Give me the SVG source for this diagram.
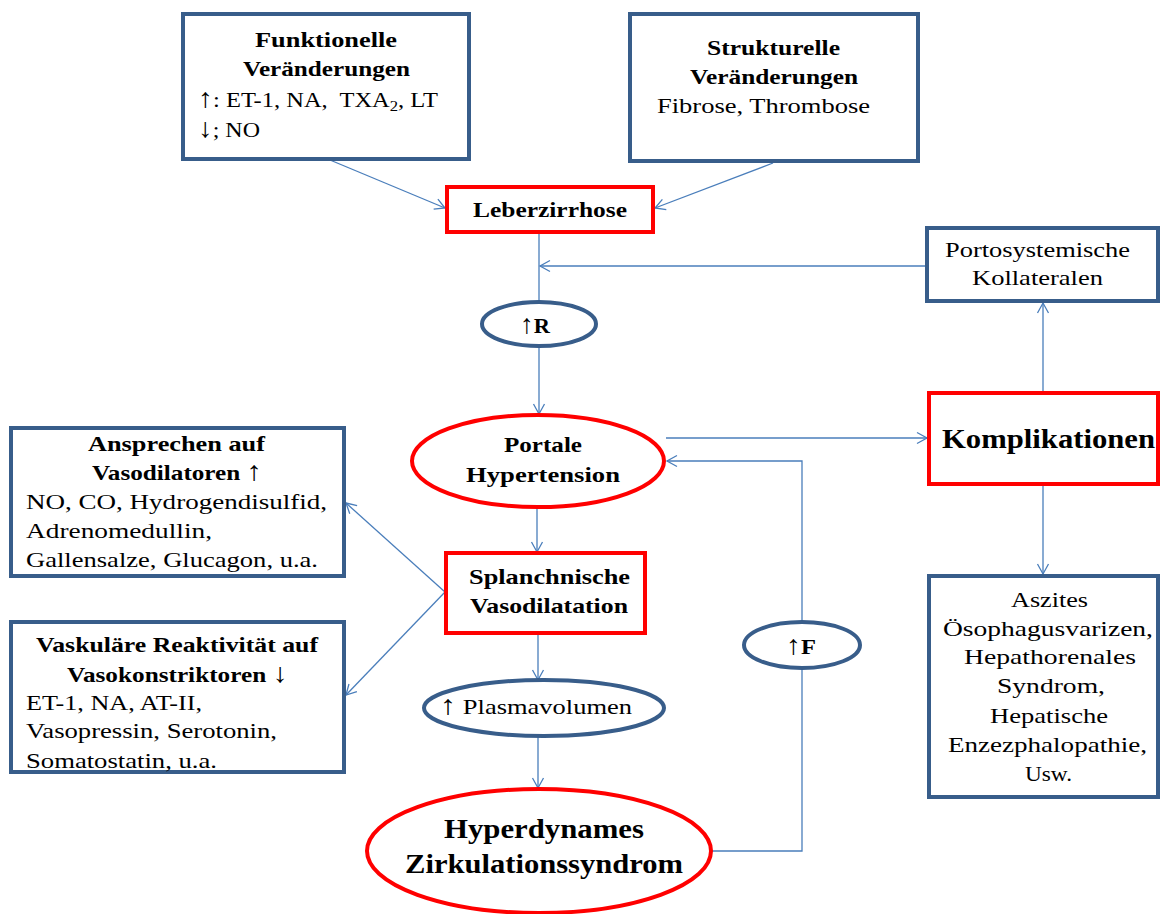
<svg xmlns="http://www.w3.org/2000/svg" width="1162" height="914" viewBox="0 0 1162 914">
<style>
.bb{fill:#fff;stroke:#385d8a;stroke-width:4}
.rb{fill:#fff;stroke:#ff0000;stroke-width:4}
.t{font-family:"Liberation Serif","DejaVu Serif",serif;font-size:22px;fill:#000;white-space:pre}
.b{font-weight:bold;font-size:22px}
.n{font-weight:normal}
.ar{font-weight:normal;font-size:27px}
.big{font-size:28px}
.ln{fill:none;stroke:#4a7ebb;stroke-width:1.3}
</style>
<defs>
<marker id="ah" markerUnits="userSpaceOnUse" markerWidth="14" markerHeight="14" refX="11" refY="7" orient="auto">
<path d="M1,1.5 L11,7 L1,12.5" fill="none" stroke="#4a7ebb" stroke-width="1.3"/>
</marker>
</defs>
<rect width="1162" height="914" fill="#fff"/>

<g id="connectors">
<path class="ln" d="M330,160 L445,208" marker-end="url(#ah)"/>
<path class="ln" d="M773,163 L655,208" marker-end="url(#ah)"/>
<path class="ln" d="M539,233 L539,302"/>
<path class="ln" d="M926,266 L540,266" marker-end="url(#ah)"/>
<path class="ln" d="M539,346 L539,414" marker-end="url(#ah)"/>
<path class="ln" d="M537,508 L537,552" marker-end="url(#ah)"/>
<path class="ln" d="M445,592 L346,503" marker-end="url(#ah)"/>
<path class="ln" d="M445,592 L346,695" marker-end="url(#ah)"/>
<path class="ln" d="M538,633 L538,680" marker-end="url(#ah)"/>
<path class="ln" d="M538,737 L538,788" marker-end="url(#ah)"/>
<path class="ln" d="M712,851 L802,851 L802,668"/>
<path class="ln" d="M802,622 L802,461 L667,461" marker-end="url(#ah)"/>
<path class="ln" d="M666,438 L927,438" marker-end="url(#ah)"/>
<path class="ln" d="M1043,391 L1043,303" marker-end="url(#ah)"/>
<path class="ln" d="M1043,486 L1043,574" marker-end="url(#ah)"/>
</g>

<g id="funktionelle">
<rect class="bb" x="183" y="14" width="286" height="145"/>
<text class="t b" x="255" y="47" textLength="142" lengthAdjust="spacingAndGlyphs">Funktionelle</text>
<text class="t b" x="243" y="76" textLength="167" lengthAdjust="spacingAndGlyphs">Veränderungen</text>
<text class="t" x="198" y="107" textLength="240" lengthAdjust="spacingAndGlyphs"><tspan class="ar">↑</tspan>: ET-1, NA,  TXA<tspan dy="4" font-size="15">2</tspan><tspan dy="-4">, LT</tspan></text>
<text class="t" x="198" y="137" textLength="62" lengthAdjust="spacingAndGlyphs"><tspan class="ar">↓</tspan>; NO</text>
</g>

<g id="strukturelle">
<rect class="bb" x="630" y="14" width="288" height="147"/>
<text class="t b" x="707" y="55" textLength="133" lengthAdjust="spacingAndGlyphs">Strukturelle</text>
<text class="t b" x="690" y="84" textLength="168" lengthAdjust="spacingAndGlyphs">Veränderungen</text>
<text class="t" x="657" y="113" textLength="213" lengthAdjust="spacingAndGlyphs">Fibrose, Thrombose</text>
</g>

<g id="leberzirrhose">
<rect class="rb" x="447" y="187" width="206" height="45"/>
<text class="t b" x="473" y="217" textLength="154" lengthAdjust="spacingAndGlyphs">Leberzirrhose</text>
</g>

<g id="portosystemische">
<rect class="bb" x="927" y="228" width="231" height="73"/>
<text class="t" x="945" y="257" textLength="185" lengthAdjust="spacingAndGlyphs">Portosystemische</text>
<text class="t" x="972" y="285" textLength="131" lengthAdjust="spacingAndGlyphs">Kollateralen</text>
</g>

<g id="r">
<ellipse class="bb" cx="539" cy="324" rx="57" ry="22"/>
<text class="t b" x="520" y="333" textLength="30" lengthAdjust="spacingAndGlyphs"><tspan class="ar">↑</tspan>R</text>
</g>

<g id="portale">
<ellipse class="rb" cx="538" cy="461" rx="126" ry="46"/>
<text class="t b" x="504" y="452" textLength="78" lengthAdjust="spacingAndGlyphs">Portale</text>
<text class="t b" x="466" y="482" textLength="154" lengthAdjust="spacingAndGlyphs">Hypertension</text>
</g>

<g id="komplikationen">
<rect class="rb" x="929" y="393" width="229" height="91"/>
<text class="t b big" x="942" y="448" textLength="213" lengthAdjust="spacingAndGlyphs">Komplikationen</text>
</g>

<g id="ansprechen">
<rect class="bb" x="11" y="428" width="333" height="148"/>
<text class="t b" x="88" y="451" textLength="177" lengthAdjust="spacingAndGlyphs">Ansprechen auf</text>
<text class="t b" x="92" y="480" textLength="170" lengthAdjust="spacingAndGlyphs">Vasodilatoren <tspan class="ar">↑</tspan></text>
<text class="t" x="26" y="509" textLength="301" lengthAdjust="spacingAndGlyphs">NO, CO, Hydrogendisulfid,</text>
<text class="t" x="26" y="538" textLength="186" lengthAdjust="spacingAndGlyphs">Adrenomedullin,</text>
<text class="t" x="26" y="567" textLength="292" lengthAdjust="spacingAndGlyphs">Gallensalze, Glucagon, u.a.</text>
</g>

<g id="splanchnische">
<rect class="rb" x="446" y="553" width="199" height="80"/>
<text class="t b" x="469" y="584" textLength="161" lengthAdjust="spacingAndGlyphs">Splanchnische</text>
<text class="t b" x="470" y="613" textLength="158" lengthAdjust="spacingAndGlyphs">Vasodilatation</text>
</g>

<g id="vaskulaere">
<rect class="bb" x="11" y="622" width="333" height="150"/>
<text class="t b" x="36" y="652" textLength="282" lengthAdjust="spacingAndGlyphs">Vaskuläre Reaktivität auf</text>
<text class="t b" x="67" y="682" textLength="221" lengthAdjust="spacingAndGlyphs">Vasokonstriktoren <tspan class="ar">↓</tspan></text>
<text class="t" x="26" y="710" textLength="176" lengthAdjust="spacingAndGlyphs">ET-1, NA, AT-II,</text>
<text class="t" x="26" y="738" textLength="251" lengthAdjust="spacingAndGlyphs">Vasopressin, Serotonin,</text>
<text class="t" x="26" y="768" textLength="191" lengthAdjust="spacingAndGlyphs">Somatostatin, u.a.</text>
</g>

<g id="f">
<ellipse class="bb" cx="802" cy="645" rx="58" ry="23"/>
<text class="t b" x="786" y="654" textLength="30" lengthAdjust="spacingAndGlyphs"><tspan class="ar">↑</tspan>F</text>
</g>

<g id="aszites">
<rect class="bb" x="929" y="576" width="229" height="221"/>
<text class="t" x="1011" y="607" textLength="77" lengthAdjust="spacingAndGlyphs">Aszites</text>
<text class="t" x="943" y="636" textLength="210" lengthAdjust="spacingAndGlyphs">Ösophagusvarizen,</text>
<text class="t" x="964" y="664" textLength="172" lengthAdjust="spacingAndGlyphs">Hepathorenales</text>
<text class="t" x="997" y="693" textLength="108" lengthAdjust="spacingAndGlyphs">Syndrom,</text>
<text class="t" x="990" y="723" textLength="118" lengthAdjust="spacingAndGlyphs">Hepatische</text>
<text class="t" x="948" y="752" textLength="199" lengthAdjust="spacingAndGlyphs">Enzezphalopathie,</text>
<text class="t" x="1025" y="781" textLength="47" lengthAdjust="spacingAndGlyphs">Usw.</text>
</g>

<g id="plasmavolumen">
<ellipse class="bb" cx="544" cy="708" rx="120" ry="28"/>
<text class="t" x="440" y="714" textLength="192" lengthAdjust="spacingAndGlyphs"><tspan class="ar">↑</tspan> Plasmavolumen</text>
</g>

<g id="hyperdynames">
<ellipse class="rb" cx="539" cy="851" rx="172" ry="62"/>
<text class="t b big" x="444" y="838" textLength="200" lengthAdjust="spacingAndGlyphs">Hyperdynames</text>
<text class="t b big" x="405" y="873" textLength="278" lengthAdjust="spacingAndGlyphs">Zirkulationssyndrom</text>
</g>
</svg>
